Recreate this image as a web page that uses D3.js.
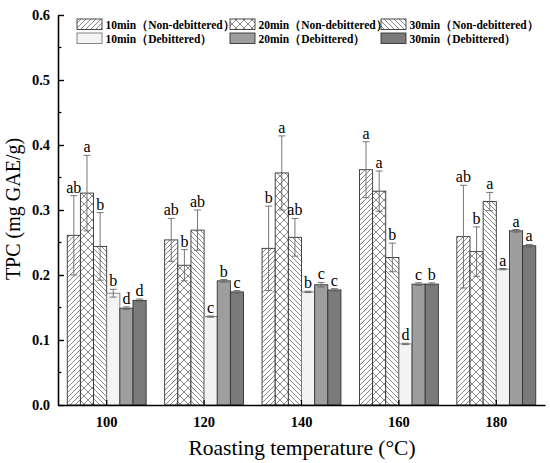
<!DOCTYPE html>
<html><head><meta charset="utf-8">
<script src="https://cdn.jsdelivr.net/npm/d3@7"></script>
<style>body{margin:0;background:#fff}svg{display:block}</style>
</head><body>
<svg id="c" width="550" height="463"></svg>
<script>
const groups = ["100","120","140","160","180"];
const seriesNames = ["10min（Non-debittered）","20min（Non-debittered）","30min（Non-debittered）","10min（Debittered）","20min（Debittered）","30min（Debittered）"];
const s10Non = [0.261, 0.254, 0.241, 0.362, 0.259];
const s20Non = [0.326, 0.215, 0.357, 0.329, 0.236];
const s30Non = [0.244, 0.269, 0.258, 0.227, 0.313];
const s10Deb = [0.172, 0.136, 0.174, 0.094, 0.209];
const s20Deb = [0.149, 0.191, 0.185, 0.186, 0.268];
const s30Deb = [0.161, 0.174, 0.177, 0.186, 0.245];
const e10Non = [0.061, 0.033, 0.065, 0.043, 0.079];
const e20Non = [0.058, 0.024, 0.057, 0.031, 0.038];
const e30Non = [0.052, 0.031, 0.029, 0.022, 0.014];
const e10Deb = [0.006, 0.001, 0.001, 0.001, 0.001];
const e20Deb = [0.002, 0.002, 0.0035, 0.002, 0.002];
const e30Deb = [0.002, 0.002, 0.002, 0.002, 0.002];
const l10Non = ["ab","ab","b","a","ab"];
const l20Non = ["a","b","a","a","b"];
const l30Non = ["b","ab","ab","b","a"];
const l10Deb = ["b","c","b","d","a"];
const l20Deb = ["d","b","c","c","a"];
const l30Deb = ["d","c","c","b","a"];
const yTicks = [0,0.1,0.2,0.3,0.4,0.5,0.6];

const values = [s10Non,s20Non,s30Non,s10Deb,s20Deb,s30Deb];
const errs = [e10Non,e20Non,e30Non,e10Deb,e20Deb,e30Deb];
const letters = [l10Non,l20Non,l30Non,l10Deb,l20Deb,l30Deb];
const fills = ["url(#hFwd)","url(#hCross)","url(#hBack)","#f4f4f4","#9e9e9e","#7a7a7a"];

const svg = d3.select("#c");
const serif = "Liberation Serif, Tinos, Times New Roman, DejaVu Serif, serif";
const x0 = d3.scaleBand().domain(groups).range([58,545]).paddingInner(0.19).paddingOuter(0.095);
const x1 = d3.scaleBand().domain(d3.range(6)).range([0,x0.bandwidth()]);
const y = d3.scaleLinear().domain([0,0.6]).range([405,15]);

const defs = svg.append("defs");
function hatch(id, size, paths){
  const p = defs.append("pattern").attr("id",id).attr("patternUnits","userSpaceOnUse")
    .attr("width",size).attr("height",size);
  p.append("rect").attr("width",size).attr("height",size).attr("fill","#fff");
  paths.forEach(d=>p.append("path").attr("d",d).attr("stroke","#555").attr("stroke-width",0.7).attr("fill","none"));
}
hatch("hFwd",5,["M0,5 L5,0","M-1,1 L1,-1","M4,6 L6,4"]);
hatch("hBack",5,["M0,0 L5,5","M-1,4 L1,6","M4,-1 L6,1"]);
hatch("hCross",8,["M0,8 L8,0","M0,0 L8,8","M-1,1 L1,-1","M7,9 L9,7","M-1,7 L1,9","M7,-1 L9,1"]);

const data = [];
groups.forEach((g,gi)=>values.forEach((s,si)=>data.push({g,si,v:s[gi],e:errs[si][gi],l:letters[si][gi]})));

const gBars = svg.append("g");
gBars.selectAll("rect").data(data).join("rect")
  .attr("x",d=>x0(d.g)+x1(d.si)).attr("width",x1.bandwidth())
  .attr("y",d=>y(d.v)).attr("height",d=>y(0)-y(d.v))
  .attr("fill",d=>fills[d.si]).attr("stroke",d=>d.si===3?"#777":"#333").attr("stroke-width",0.9);

// error bars
const eb = svg.append("g").attr("stroke","#666").attr("stroke-width",0.9);
data.forEach(d=>{
  const cx = x0(d.g)+x1(d.si)+x1.bandwidth()/2;
  const t = y(d.v+d.e), b = y(d.v-d.e);
  eb.append("line").attr("x1",cx).attr("x2",cx).attr("y1",t).attr("y2",b);
  eb.append("line").attr("x1",cx-3.5).attr("x2",cx+3.5).attr("y1",t).attr("y2",t);
  eb.append("line").attr("x1",cx-3.5).attr("x2",cx+3.5).attr("y1",b).attr("y2",b);
});
// letters
svg.append("g").selectAll("text").data(data).join("text")
  .attr("x",d=>x0(d.g)+x1(d.si)+x1.bandwidth()/2)
  .attr("y",d=>y(d.v+d.e)-3)
  .attr("text-anchor","middle").style("font-family",serif).attr("font-size",16)
  .text(d=>d.l);

// axes
const yAxis = svg.append("g").attr("transform","translate(58,0)")
  .call(d3.axisLeft(y).tickValues(yTicks).tickFormat(d3.format(".1f")).tickSizeInner(-6).tickSizeOuter(0));
yAxis.select(".domain").attr("stroke","#000").attr("stroke-width",1.6);
yAxis.selectAll(".tick line").attr("stroke","#000").attr("stroke-width",1.4);
yAxis.selectAll(".tick text").attr("x",-8).style("font-family",serif).attr("font-size",14.5).attr("font-weight","bold").attr("fill","#000");
const minor = d3.range(0.05,0.6,0.1);
svg.append("g").selectAll("line").data(minor).join("line")
  .attr("x1",58).attr("x2",61.5).attr("y1",d=>y(d)).attr("y2",d=>y(d)).attr("stroke","#000").attr("stroke-width",1.2);

const xAxis = svg.append("g").attr("transform","translate(0,405)")
  .call(d3.axisBottom(x0).tickSizeInner(-5).tickSizeOuter(0));
xAxis.select(".domain").attr("stroke","#000").attr("stroke-width",1.6);
xAxis.selectAll(".tick line").attr("stroke","#000").attr("stroke-width",1.2);
xAxis.selectAll(".tick text").attr("y",12).style("font-family",serif).attr("font-size",14.5).attr("font-weight","bold").attr("fill","#000");

svg.append("text").attr("x",302).attr("y",455).attr("text-anchor","middle")
  .style("font-family",serif).attr("font-size",21.5).text("Roasting temperature (°C)");
svg.append("text").attr("transform","translate(20,209) rotate(-90)").attr("text-anchor","middle")
  .style("font-family",serif).attr("font-size",20).text("TPC (mg GAE/g)");

// legend
const legX = [77,230,381];
const lg = svg.append("g");
seriesNames.forEach((n,i)=>{
  const col = i%3, row = Math.floor(i/3);
  const gx = legX[col], gy = 19 + row*14;
  lg.append("rect").attr("x",gx).attr("y",gy).attr("width",25).attr("height",10.5)
    .attr("fill",fills[i]).attr("stroke",i===3?"#777":"#333").attr("stroke-width",0.9);
  lg.append("text").attr("x",gx+28.5).attr("y",gy+9.5).style("font-family",serif)
    .attr("font-size",11.5).attr("font-weight","bold").text(n);
});
</script>
</body></html>
